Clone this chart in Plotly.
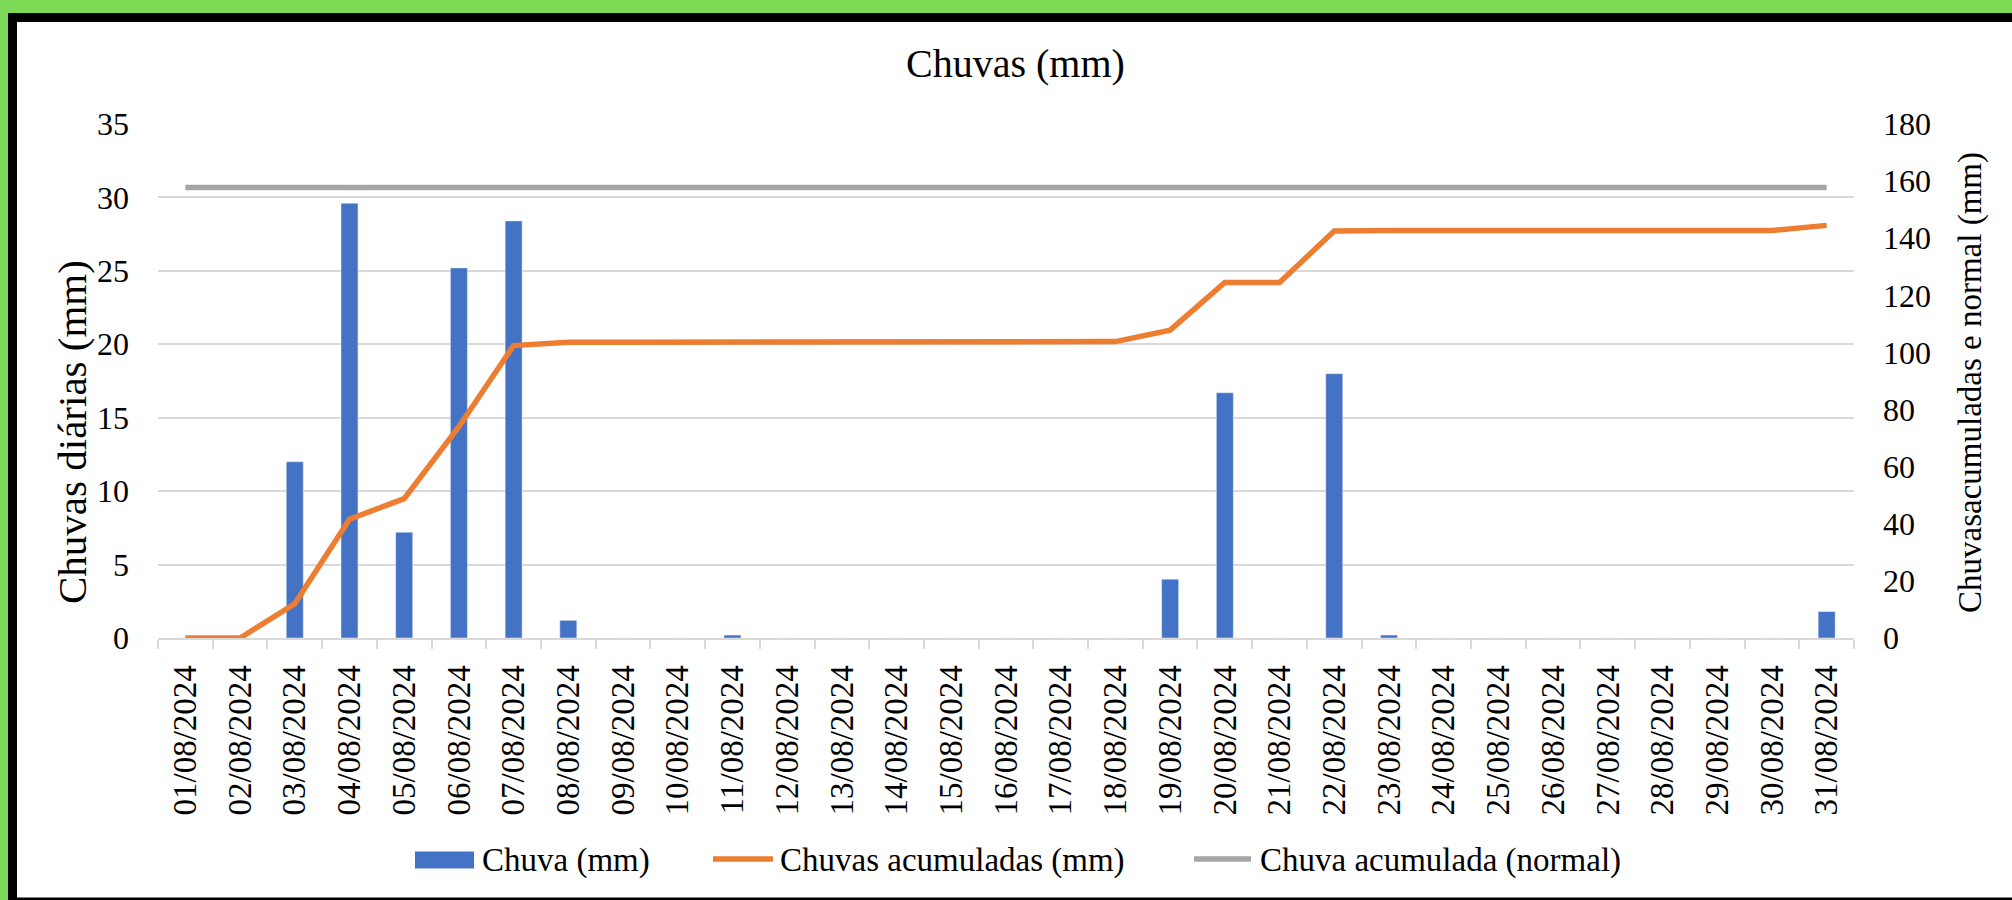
import plotly.graph_objects as go

# ---------------- data ----------------
dates = ["%02d/08/2024" % d for d in range(1, 32)]
chuva_diaria = [0, 0, 12.0, 29.6, 7.2, 25.2, 28.4, 1.2, 0, 0, 0.2, 0, 0, 0, 0, 0, 0, 0,
                4.0, 16.7, 0, 18.0, 0.2, 0, 0, 0, 0, 0, 0, 0, 1.8]
chuva_acumulada = [0, 0, 12.0, 41.6, 48.8, 74.0, 102.4, 103.6, 103.6, 103.6, 103.8, 103.8,
                   103.8, 103.8, 103.8, 103.8, 103.8, 103.8, 107.8, 124.5, 124.5, 142.5,
                   142.7, 142.7, 142.7, 142.7, 142.7, 142.7, 142.7, 142.7, 144.5]
chuva_normal = [157.8] * 31
series_names = ["Chuva (mm)", "Chuvas acumuladas (mm)", "Chuva acumulada (normal)"]
colors = ["#4472C4", "#ED7D31", "#A5A5A5"]

# ---------------- layout geometry ----------------
W, H = 2012, 900
L, R, T, B = 158, 2012 - 1854, 124, 900 - 638
PW, PH = W - L - R, H - T - B

def px(x):
    return (x - L) / PW

def py(y):
    return (H - B - y) / PH

FONT = "Liberation Serif, Times New Roman, serif"

fig = go.Figure()
fig.add_trace(go.Bar(x=dates, y=chuva_diaria, name=series_names[0], marker_color=colors[0],
                     width=0.31, showlegend=False))
fig.add_trace(go.Scatter(x=dates, y=chuva_acumulada, name=series_names[1], mode="lines",
                         line=dict(color=colors[1], width=5.5), yaxis="y2", showlegend=False))
fig.add_trace(go.Scatter(x=dates, y=chuva_normal, name=series_names[2], mode="lines",
                         line=dict(color=colors[2], width=5.5), yaxis="y2", showlegend=False))

shapes = [
    dict(type="rect", xref="paper", yref="paper", x0=px(8), x1=px(2030), y0=py(13), y1=py(910),
         fillcolor="#000000", line_width=0, layer="below"),
    dict(type="rect", xref="paper", yref="paper", x0=px(17), x1=px(2030), y0=py(22), y1=py(897.5),
         fillcolor="#FFFFFF", line_width=0, layer="below"),
    # legend symbols
    dict(type="rect", xref="paper", yref="paper", x0=px(415), x1=px(474), y0=py(851.5), y1=py(868.5),
         fillcolor=colors[0], line_width=0),
    dict(type="line", xref="paper", yref="paper", x0=px(713), x1=px(773), y0=py(859), y1=py(859),
         line=dict(color=colors[1], width=5.5)),
    dict(type="line", xref="paper", yref="paper", x0=px(1194), x1=px(1251), y0=py(859), y1=py(859),
         line=dict(color=colors[2], width=5.5)),
]

annotations = [
    dict(text="Chuvas (mm)", xref="paper", yref="paper", x=px(1015), y=py(64),
         showarrow=False, font=dict(family=FONT, size=40, color="#000"), xanchor="center", yanchor="middle"),
    dict(text="Chuvas diárias (mm)", xref="paper", yref="paper", x=px(72), y=py(432),
         textangle=-90, showarrow=False, font=dict(family=FONT, size=41, color="#000"),
         xanchor="center", yanchor="middle"),
    dict(text="Chuvasacumuladas e normal (mm)", xref="paper", yref="paper", x=px(1970), y=py(383),
         textangle=-90, showarrow=False, font=dict(family=FONT, size=33, color="#000"),
         xanchor="center", yanchor="middle"),
    dict(text=series_names[0], xref="paper", yref="paper", x=px(480), y=py(860), showarrow=False,
         font=dict(family=FONT, size=33, color="#000"), xanchor="left", yanchor="middle"),
    dict(text=series_names[1], xref="paper", yref="paper", x=px(778), y=py(860), showarrow=False,
         font=dict(family=FONT, size=33, color="#000"), xanchor="left", yanchor="middle"),
    dict(text=series_names[2], xref="paper", yref="paper", x=px(1258), y=py(860), showarrow=False,
         font=dict(family=FONT, size=33, color="#000"), xanchor="left", yanchor="middle"),
]

fig.update_layout(
    width=W, height=H,
    margin=dict(l=L, r=R, t=T, b=B, pad=0),
    paper_bgcolor="#7ED957",
    plot_bgcolor="rgba(0,0,0,0)",
    font=dict(family=FONT, size=32, color="#000"),
    showlegend=False,
    bargap=0.69,
    shapes=shapes,
    annotations=annotations,
    xaxis=dict(type="category", tickangle=-90, tickson="boundaries", ticks="outside", ticklen=9,
               tickwidth=2, tickcolor="#D9D9D9", showline=True, linecolor="#D9D9D9", linewidth=2,
               showgrid=False, tickfont=dict(family=FONT, size=33, color="#000"),
               ticklabelstandoff=12, range=[-0.5, 30.5]),
    yaxis=dict(range=[0, 35], dtick=5, showgrid=True, gridcolor="#D9D9D9", gridwidth=2,
               zeroline=False, showline=False, ticks="", tickfont=dict(family=FONT, size=32, color="#000"),
               ticklabelstandoff=28),
    yaxis2=dict(range=[0, 180], dtick=20, overlaying="y", side="right", showgrid=False,
                zeroline=False, showline=False, ticks="",
                tickfont=dict(family=FONT, size=32, color="#000"), ticklabelstandoff=28),
)

fig.write_html("out.html", config={"displayModeBar": False},
               post_script="document.body.style.margin='0';")
